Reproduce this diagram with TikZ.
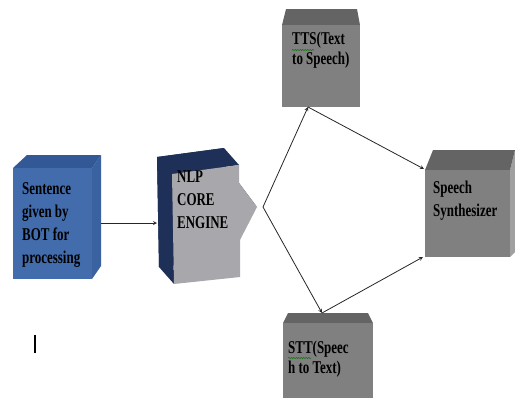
\documentclass[tikz,border=0pt]{standalone}
\usepackage{fontspec}
\newfontfamily\boxfont[FakeStretch=0.72]{Liberation Serif}
\usetikzlibrary{positioning}
\usetikzlibrary{decorations.pathmorphing}
\definecolor{bluefront}{RGB}{66,108,172}
\definecolor{bluetop}{RGB}{50,88,150}
\definecolor{blueside}{RGB}{58,98,160}
\definecolor{nlpdark}{RGB}{30,48,88}
\definecolor{nlpfront}{RGB}{168,168,172}
\definecolor{greyfront}{RGB}{128,128,128}
\definecolor{greytop}{RGB}{100,100,100}
\definecolor{greyside}{RGB}{160,160,160}

\begin{document}
\begin{tikzpicture}
	[x=1pt,y=-1pt,>=stealth,
	boxtext/.style={anchor=north west,inner sep=0pt,align=left,
		font=\boxfont\bfseries\fontsize{18}{23}\selectfont},
	tight/.style={font=\boxfont\bfseries\fontsize{18}{20}\selectfont},
	conn/.style={draw=black!85,line width=0.8pt},
	squiggle/.style={draw=green!45!black,line width=0.5pt,decorate,
		decoration={snake,amplitude=0.5pt,segment length=2.5pt}}]
	\useasboundingbox (0,0) rectangle (515,400);
	% input box
	\fill[blueside] (92,168) -- (101,155) -- (101,266) -- (92,279) -- cycle;
	\fill[bluetop] (13,168) -- (27,155) -- (101,155) -- (92,168) -- cycle;
	\fill[bluefront] (13,168) rectangle (92,279);
	% core engine arrow block
	\fill[nlpdark,shift={(-15,-17)}] (172,174) -- (239,165) -- (239,183) -- (257,207)
		-- (240,240) -- (240,277) -- (174,284) -- cycle;
	\fill[nlpdark] (174,284) -- (172,174) -- (239,165) -- (224,148) -- (157,157) -- (159,267) -- cycle;
	\fill[nlpdark] (239,183) -- (257,207) -- (242,190) -- (224,166) -- cycle;
	\fill[nlpfront] (172,174) -- (239,165) -- (239,183) -- (257,207)
		-- (240,240) -- (240,277) -- (174,284) -- cycle;
	% grey boxes
	\fill[greytop] (282,25) -- (286,9) -- (357,9) -- (360,25) -- cycle;
	\fill[greyfront] (282,25) rectangle (360,107);
	\fill[greytop] (283,323) -- (288,313) -- (368,313) -- (373,323) -- cycle;
	\fill[greyfront] (283,323) rectangle (373,398);
	\fill[greyside] (510,170) -- (515,150) -- (515,252) -- (510,257) -- cycle;
	\fill[greytop] (425,170) -- (433,150) -- (515,150) -- (510,170) -- cycle;
	\fill[greyfront] (425,170) rectangle (510,257);
	% texts
	\node[boxtext] (sentence) at (22,182) {Sentence\\given by\\BOT for\\processing};
	\node[boxtext] (nlp) at (177,171) {NLP\\CORE\\ENGINE};
	\node[boxtext,tight] (tts) at (292,32) {TTS(Text\\to Speech)};
	\node[boxtext,tight] (stt) at (288,341) {STT(Speec\\h to Text)};
	\node[boxtext] (synth) at (433,181) {Speech\\Synthesizer};
	\draw[squiggle] (292,50) -- (314,50);
	\draw[squiggle] (288,358) -- (311,358);
	% connection points
	\coordinate (sentence-out) at (101,223);
	\coordinate (nlp-in) at (157,223);
	\coordinate (nlp-tip) at (263,207);
	\coordinate (tts-in) at (308,107);
	\coordinate (stt-in) at (322,313);
	\coordinate (synth-top) at (424,169);
	\coordinate (synth-bottom) at (423,257);
	\draw [conn,->] (sentence-out) -- (nlp-in);
	\draw [conn,->] (nlp-tip) -- (tts-in);
	\draw [conn,->] (nlp-tip) -- (stt-in);
	\draw [conn,->] (tts-in) -- (synth-top);
	\draw [conn,->] (stt-in) -- (synth-bottom);
	% stray cursor
	\draw[line width=1.6pt] (35,335) -- (35,353);
\end{tikzpicture}
\end{document}
